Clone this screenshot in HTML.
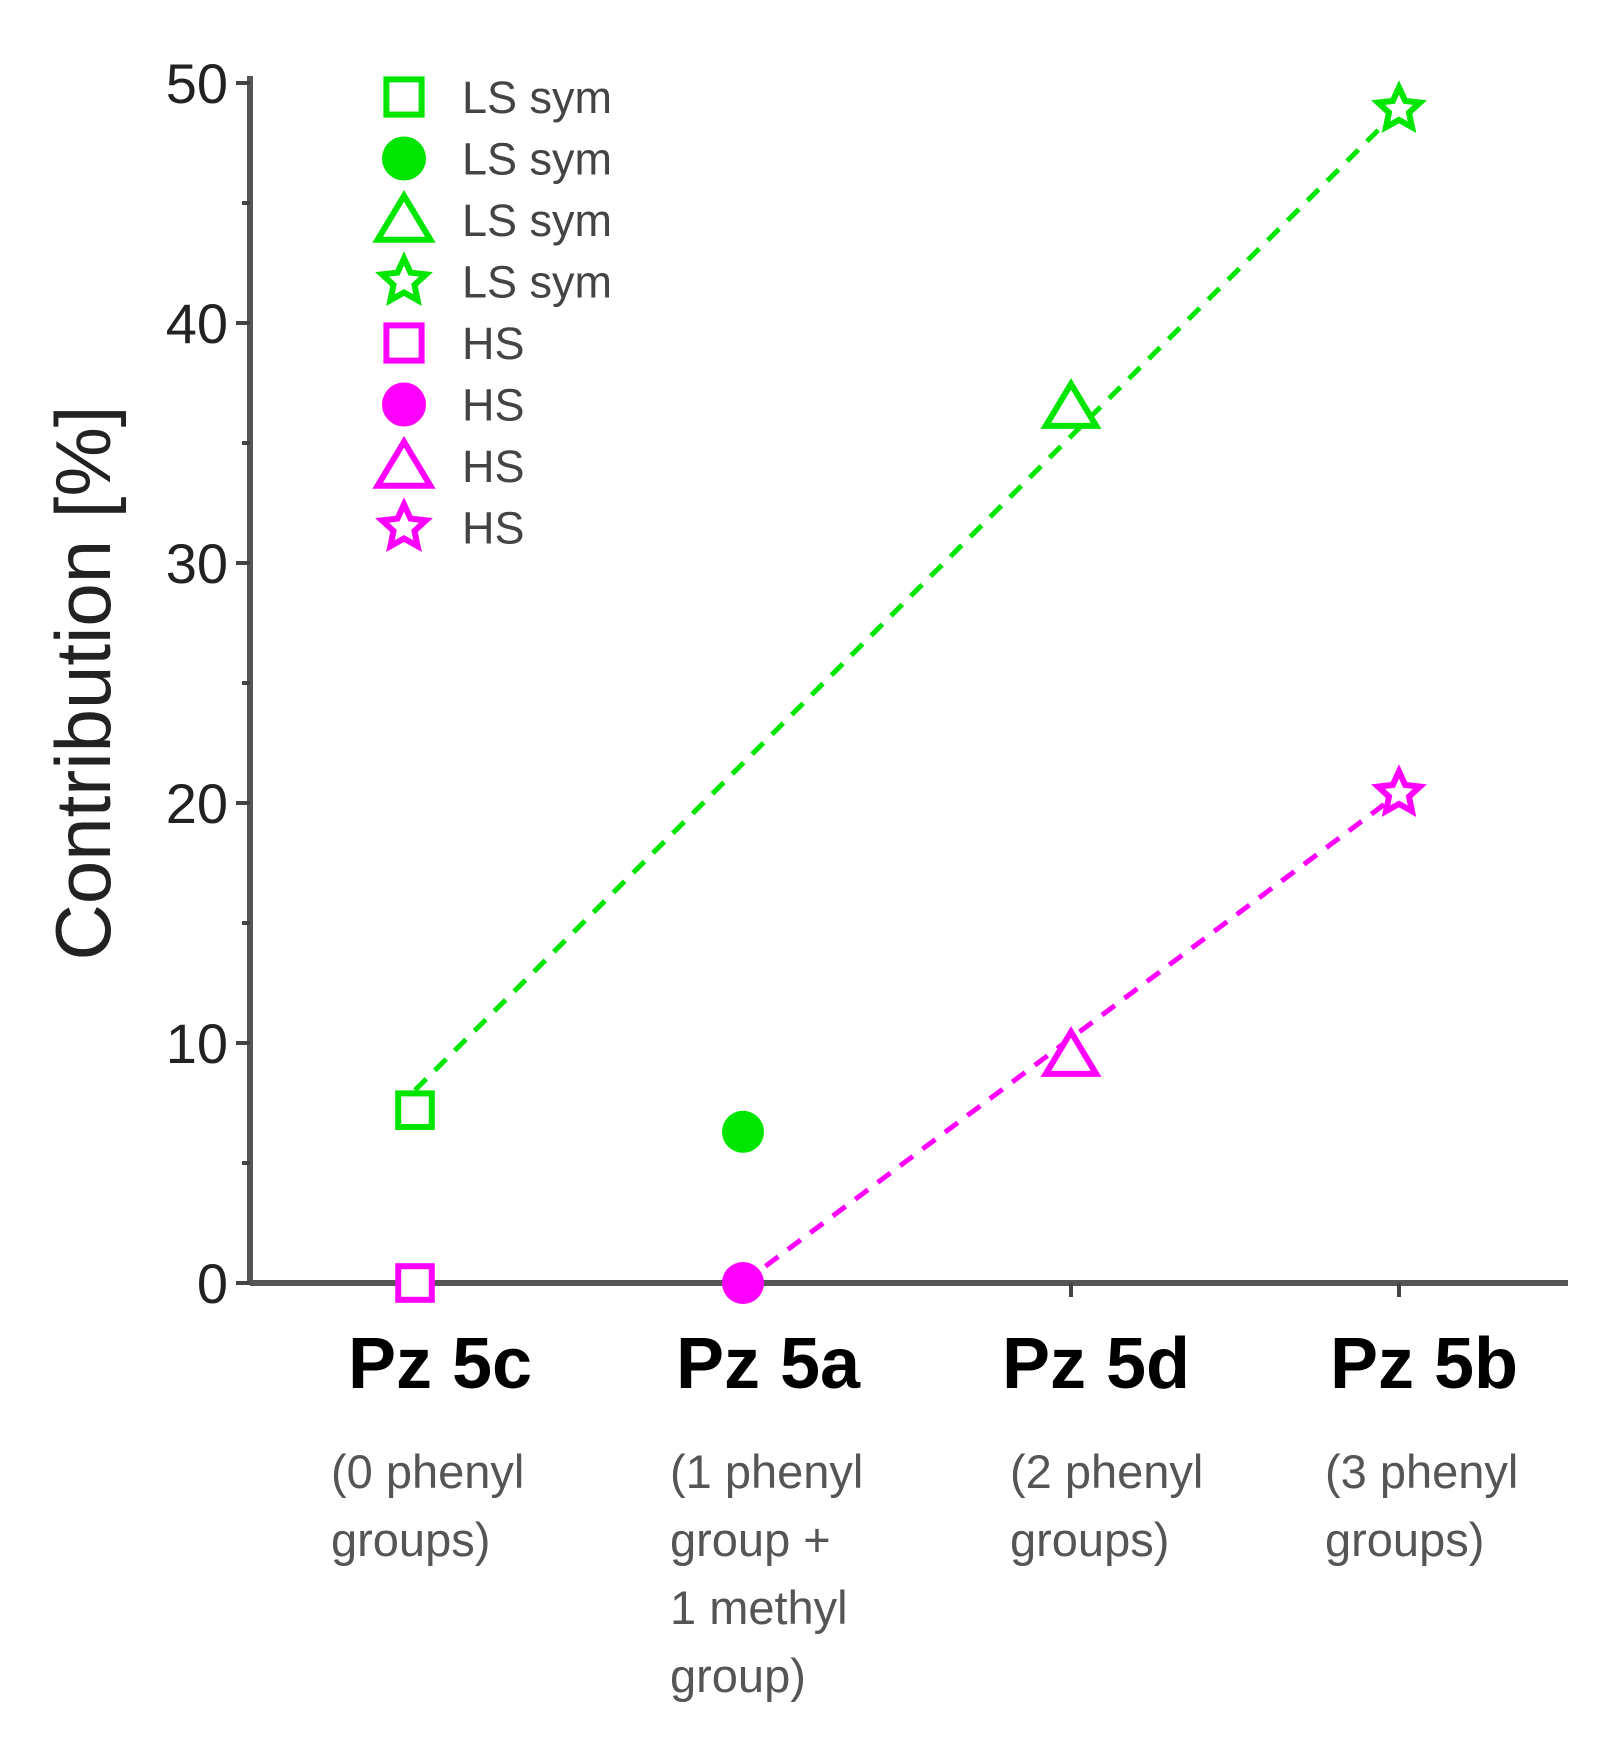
<!DOCTYPE html>
<html><head><meta charset="utf-8"><style>
html,body{margin:0;padding:0;background:#fff;}
svg{display:block;}
text{font-family:"Liberation Sans",sans-serif;}
</style></head><body>
<svg id="chart" width="1615" height="1746" viewBox="0 0 1615 1746" xmlns="http://www.w3.org/2000/svg">
<g id="axes"></g>
<g id="lines"></g>
<g id="marks"></g>
<g id="legend"></g>
<text transform="translate(110,683) rotate(-90)" text-anchor="middle" font-size="78" fill="#222">Contribution [%]</text>
</svg>
<script>
const categories=["Pz 5c","Pz 5a","Pz 5d","Pz 5b"];
const subtitles=[["(0 phenyl","groups)"],["(1 phenyl","group  +","1 methyl","group)"],["(2 phenyl","groups)"],["(3 phenyl","groups)"]];
const lsValues=[7.2,6.3,36.5,48.9];
const hsValues=[0,0,9.5,20.4];
const markerShapes=["square","circle","triangle","star"];
const yTicks=[0,10,20,30,40,50];
const legendLabels=["LS sym","LS sym","LS sym","LS sym","HS","HS","HS","HS"];
const GREEN="#00e600",MAG="#ff00ff";
const NS="http://www.w3.org/2000/svg";
const X0=250,XEND=1568,Y0=1283,YTOP=76;
function xs(i){return 415+i*328;}
function ys(v){return Y0-v*24;}
function mk(tag,attrs,parent){const e=document.createElementNS(NS,tag);for(const k in attrs)e.setAttribute(k,attrs[k]);parent.appendChild(e);return e;}
const axes=document.getElementById('axes');
let e=mk('line',{x1:X0,y1:YTOP,x2:X0,y2:Y0,stroke:'#555','stroke-width':6},axes);


e=mk('line',{x1:X0,y1:Y0,x2:XEND,y2:Y0,stroke:'#555','stroke-width':6},axes);


for(let v=0;v<=50;v+=5){
  const major=v%10===0;
  e=mk('line',{x1:X0-(major?14:8),y1:ys(v),x2:X0,y2:ys(v),stroke:'#444','stroke-width':4},axes);
  
  
}
yTicks.forEach(v=>{
  const t=mk('text',{x:X0-22,y:ys(v)+20,'text-anchor':'end','font-size':56,fill:'#222'},axes);
  t.textContent=String(v);
  
  
});
categories.forEach((c,i)=>{
  e=mk('line',{x1:xs(i),y1:Y0,x2:xs(i),y2:Y0+14,stroke:'#444','stroke-width':4},axes);
  
  
  const t=mk('text',{x:xs(i)+25,y:1388,'text-anchor':'middle','font-size':72,'font-weight':'bold',fill:'#000'},axes);
  t.textContent=c;
  
  
  const lefts=[331,670,1010,1325];
  subtitles[i].forEach((s,j)=>{
    const st=mk('text',{x:lefts[i],y:1488+j*68,'font-size':47,fill:'#555'},axes);
    st.textContent=s;
    
    
  });
});
const lines=document.getElementById('lines');
e=mk('line',{x1:xs(0),y1:ys(lsValues[0])-20,x2:xs(3),y2:ys(lsValues[3]),stroke:GREEN,'stroke-width':5,'stroke-dasharray':'16 12'},lines);


e=mk('line',{x1:xs(1),y1:ys(hsValues[1]),x2:xs(3),y2:ys(hsValues[3]),stroke:MAG,'stroke-width':5,'stroke-dasharray':'16 12'},lines);


function marker(shape,cx,cy,color,parent,s){
  let el;
  if(shape==='square') el=mk('rect',{x:cx-s*0.8,y:cy-s*0.8,width:s*1.6,height:s*1.6,fill:'#fff',stroke:color,'stroke-width':6},parent);
  else if(shape==='circle') el=mk('circle',{cx:cx,cy:cy,r:s,fill:color},parent);
  else if(shape==='triangle') el=mk('polygon',{points:`${cx},${cy-s*1.1} ${cx+s*1.2},${cy+s*0.9} ${cx-s*1.2},${cy+s*0.9}`,fill:'#fff',stroke:color,'stroke-width':6},parent);
  else {let p=[];for(let k=0;k<10;k++){const r=k%2?s*0.5:s*1.05;const a=-Math.PI/2+k*Math.PI/5;p.push((cx+r*Math.cos(a)).toFixed(1)+','+(cy+r*Math.sin(a)).toFixed(1));}
    el=mk('polygon',{points:p.join(' '),fill:'#fff',stroke:color,'stroke-width':6},parent);}
  return el;
}
const marks=document.getElementById('marks');
lsValues.forEach((v,i)=>{const m=marker(markerShapes[i],xs(i),ys(v),GREEN,marks,21);
  
  });
hsValues.forEach((v,i)=>{const m=marker(markerShapes[i],xs(i),ys(v),MAG,marks,21);
  
  });
const legend=document.getElementById('legend');
legendLabels.forEach((l,i)=>{
  const y=97+i*61.5;
  const m=marker(markerShapes[i%4],404,y,i<4?GREEN:MAG,legend,22);
  
  
  const t=mk('text',{x:462,y:y+16,'font-size':45,fill:'#444'},legend);
  t.textContent=l;
  
  
});
</script>
</body></html>
